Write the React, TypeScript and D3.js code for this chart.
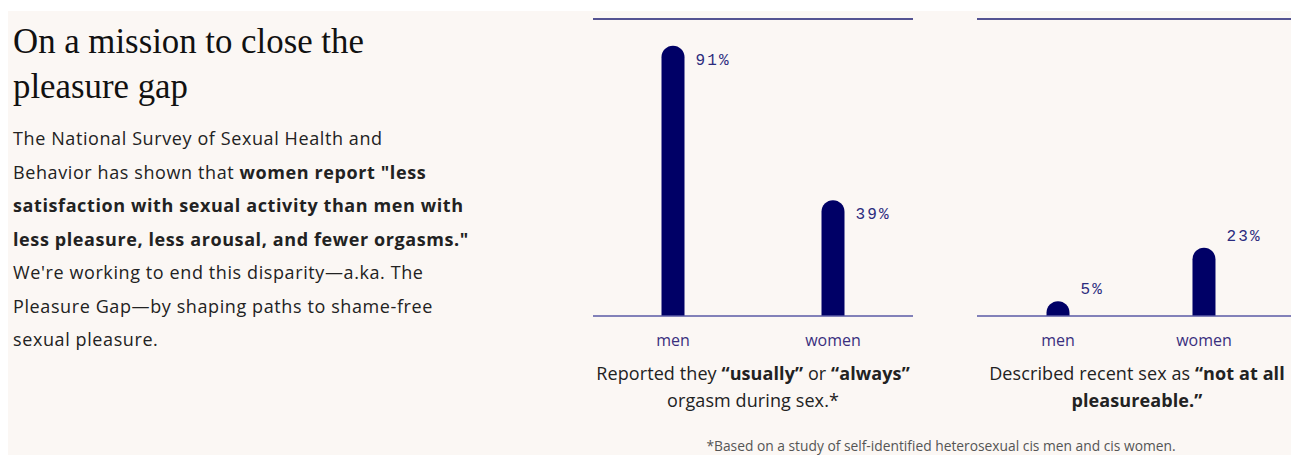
import React from "react";
import * as d3 from "d3";

const categories = ["men", "women"];
const orgasmValues = [91, 39];
const notPleasurableValues = [5, 23];
const valueTickLabels = ["91%", "39%", "5%", "23%"];

const titleLines = ["On a mission to close the", "pleasure gap"];
type Seg = { t: string; b?: boolean };
const bodyLines: Seg[][] = [
  [{ t: "The National Survey of Sexual Health and" }],
  [{ t: "Behavior has shown that " }, { t: "women report \"less", b: true }],
  [{ t: "satisfaction with sexual activity than men with", b: true }],
  [{ t: "less pleasure, less arousal, and fewer orgasms.\"", b: true }],
  [{ t: "We're working to end this disparity\u2014a.ka. The" }],
  [{ t: "Pleasure Gap\u2014by shaping paths to shame-free" }],
  [{ t: "sexual pleasure." }],
];
const caption1: Seg[][] = [
  [{ t: "Reported they " }, { t: "\u201cusually\u201d", b: true }, { t: " or " }, { t: "\u201calways\u201d", b: true }],
  [{ t: "orgasm during sex.*" }],
];
const caption2: Seg[][] = [
  [{ t: "Described recent sex as " }, { t: "\u201cnot at all", b: true }],
  [{ t: "pleasureable.\u201d", b: true }],
];
const footnote = "*Based on a study of self-identified heterosexual cis men and cis women.";

const W = 1291;
const H = 455;
const NAVY = "#000066";
const SANS = "'Open Sans', 'Liberation Sans', sans-serif";

const y = d3.scaleLinear().domain([0, 100]).range([316, 19]);

function barPath(cx: number, top: number, base: number, w: number) {
  const r = w / 2;
  const p = d3.path();
  p.moveTo(cx - r, base);
  p.lineTo(cx - r, top + r);
  p.arc(cx, top + r, r, Math.PI, 0);
  p.lineTo(cx + r, base);
  p.closePath();
  return p.toString();
}

function Lines({ lines, x, y0, dy, size, anchor, fill, ls }: { lines: Seg[][]; x: number; y0: number; dy: number; size: number; anchor: string; fill: string; ls: number }) {
  return (
    <g fontFamily={SANS} fontSize={size} fill={fill} textAnchor={anchor} letterSpacing={ls}>
      {lines.map((ln, i) => (
        <text key={i} x={x} y={y0 + i * dy}>
          {ln.map((s, j) => (
            <tspan key={j} fontWeight={s.b ? 700 : 400}>{s.t}</tspan>
          ))}
        </text>
      ))}
    </g>
  );
}

function Chart({ values, labels, x0, x1, lineEnd, padding, labelDy, caption, capX }: { values: number[]; labels: string[]; x0: number; x1: number; lineEnd: number; padding: number; labelDy: number; caption: Seg[][]; capX: number }) {
  const x = d3.scalePoint<string>().domain(categories).range([x0, x1]).padding(padding);
  const bw = 23;
  return (
    <g>
      <line x1={x0} x2={lineEnd} y1={y(100)} y2={y(100)} stroke="#1c1c72" strokeWidth={1.6} />
      {categories.map((c, i) => (
        <path key={c} d={barPath(x(c)!, y(values[i]), y(0), bw)} fill={NAVY} />
      ))}
      <line x1={x0} x2={lineEnd} y1={y(0)} y2={y(0)} stroke="#5a5aa6" strokeWidth={1.6} />
      {categories.map((c, i) => (
        <text key={c + "v"} x={x(c)! + bw / 2 + 11} y={y(values[i]) + labelDy} fontFamily="'Liberation Mono', 'DejaVu Sans Mono', monospace" fontSize={16} letterSpacing={2.2} fill="#2b2b7e">
          {labels[i]}
        </text>
      ))}
      {categories.map((c) => (
        <text key={c + "c"} x={x(c)!} y={346} textAnchor="middle" fontFamily={SANS} fontSize={16} fill="#3a2f7e">
          {c}
        </text>
      ))}
      <Lines lines={caption} x={capX} y0={380} dy={27} size={18} anchor="middle" fill="#222" ls={0.1} />
    </g>
  );
}

export default function App() {
  return (
    <svg width={W} height={H} style={{ position: "absolute", left: 0, top: 0, display: "block" }}>
      <rect x={0} y={0} width={W} height={H} fill="#ffffff" />
      <rect x={8} y={11} width={W - 8} height={H - 11} fill="#fbf7f4" />
      <g fontFamily="'Liberation Serif', 'DejaVu Serif', serif" fontSize={34.8} fill="#111">
        {titleLines.map((t, i) => (
          <text key={i} x={13} y={53 + i * 45}>{t}</text>
        ))}
      </g>
      <Lines lines={bodyLines} x={13} y0={145} dy={33.5} size={18} anchor="start" fill="#222" ls={0.6} />
      <Chart values={orgasmValues} labels={valueTickLabels.slice(0, 2)} x0={593} x1={913} lineEnd={913} padding={0.5} labelDy={19} caption={caption1} capX={753} />
      <Chart values={notPleasurableValues} labels={valueTickLabels.slice(2, 4)} x0={977} x1={1285} lineEnd={W} padding={0.555} labelDy={-7} caption={caption2} capX={1137} />
      <text x={941} y={451} textAnchor="middle" fontFamily={SANS} fontSize={13.8} fill="#555">{footnote}</text>
    </svg>
  );
}
